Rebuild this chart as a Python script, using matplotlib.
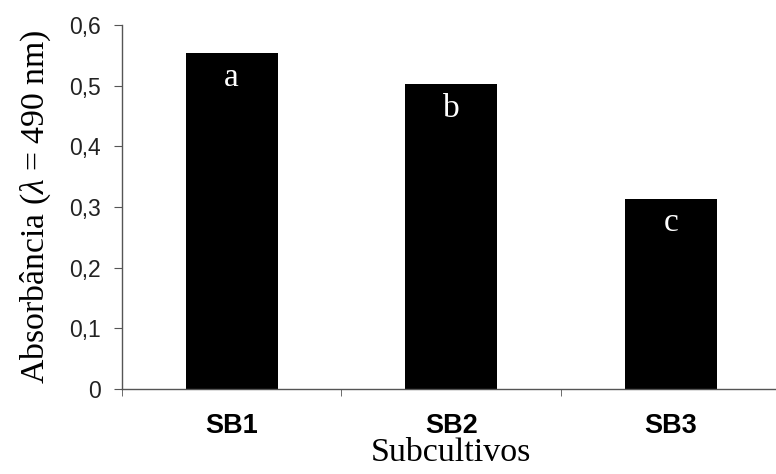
import numpy as np
import matplotlib.pyplot as plt
from matplotlib.ticker import FuncFormatter

# absorbância média por subcultivo
subcultivos = ['SB1', 'SB2', 'SB3']
absorbancia = [0.553, 0.502, 0.314]
letras = ['a', 'b', 'c']

plt.rcParams['mathtext.fontset'] = 'custom'
plt.rcParams['mathtext.rm'] = 'Liberation Serif'
plt.rcParams['mathtext.it'] = 'Liberation Serif:italic'

fig = plt.figure(figsize=(7.76, 4.74), dpi=100)
ax = fig.add_axes([0.1572, 0.1793, 0.8486, 0.768])

x = np.arange(len(subcultivos))
ax.bar(x, absorbancia, width=0.42, color='black')

# letras das diferenças significativas dentro das barras
for xx, yy, l in zip(x, absorbancia, letras):
    ax.annotate(l, (xx, yy), xytext=(0, -23.5), textcoords='offset points',
                ha='center', va='baseline', color='white',
                fontsize=24, family='Liberation Serif')

ax.set_xlim(-0.5, 2.5)
ax.set_ylim(0, 0.6)
ax.set_yticks(np.arange(0, 0.61, 0.1))
ax.yaxis.set_major_formatter(FuncFormatter(lambda v, p: '0' if v == 0 else ('%.1f' % v).replace('.', ',')))
ax.set_xticks(x)
ax.set_xticklabels(subcultivos, fontsize=19.5, fontweight='bold', family='Liberation Sans')
ax.set_xticks([-0.5, 0.5, 1.5, 2.5], minor=True)
ax.tick_params(axis='x', which='major', length=0, pad=17)
ax.tick_params(axis='x', which='minor', length=5, color='#555555', direction='out')
ax.tick_params(axis='y', length=6, color='#555555', pad=9, labelsize=16.5, labelcolor='#222222')
for t in ax.get_yticklabels():
    t.set_family('Liberation Sans')

for s in ['top', 'right']:
    ax.spines[s].set_visible(False)
for s in ['left', 'bottom']:
    ax.spines[s].set_color('#555555')
    ax.spines[s].set_linewidth(1.0)

ax.set_xlabel('Subcultivos', fontsize=24.5, family='Liberation Serif', labelpad=-1)
ax.set_ylabel(r'Absorbância ($\lambda$ = 490 nm)', fontsize=24.3, family='Liberation Serif', labelpad=12)

fig.savefig('out.png', dpi=100)
